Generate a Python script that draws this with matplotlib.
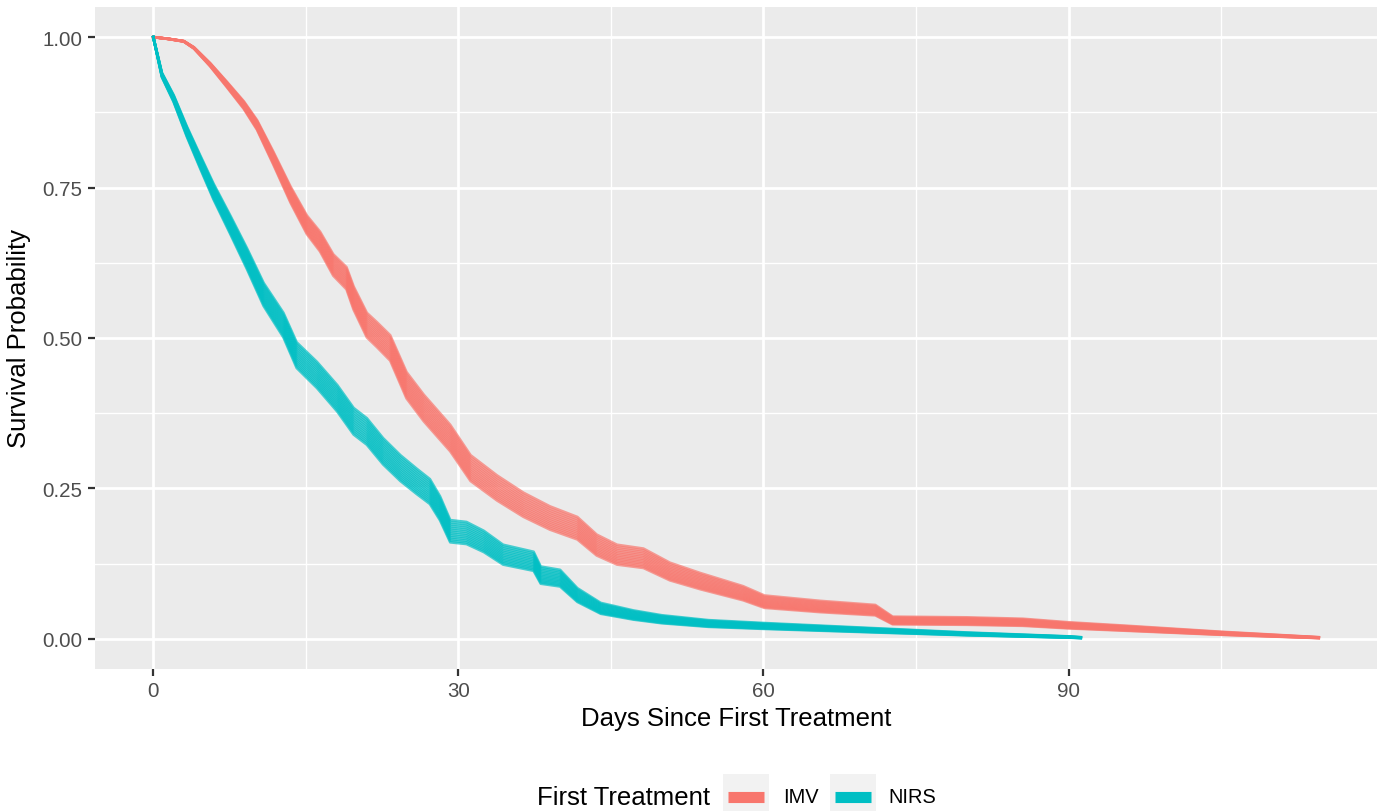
import numpy as np
import matplotlib
matplotlib.use('Agg')
import matplotlib.pyplot as plt
from matplotlib.patches import Rectangle
from matplotlib.lines import Line2D


# Kaplan-Meier curves (days, survival probability)
IMV_DAYS = [0, 1.5, 3.0, 4.0, 5.6, 7.25, 8.9, 10.2, 11.8, 13.5, 15.1, 16.4,
            17.7, 19.0, 19.7, 21.0, 22.0, 23.3, 24.9, 26.6, 29.2, 31.2, 33.8,
            36.4, 39.0, 41.7, 43.6, 45.6, 48.2, 50.8, 53.8, 58.0, 60.1, 65.6,
            71.0, 72.7, 80.0, 85.5, 90.0, 95.9, 105.0, 114.6]
IMV_SURV = [1.000, 0.997, 0.993, 0.982, 0.954, 0.921, 0.887, 0.854, 0.799,
            0.738, 0.688, 0.660, 0.621, 0.599, 0.566, 0.521, 0.505, 0.483,
            0.421, 0.383, 0.333, 0.283, 0.250, 0.222, 0.200, 0.183, 0.155,
            0.139, 0.133, 0.111, 0.095, 0.075, 0.061, 0.053, 0.047, 0.030,
            0.029, 0.027, 0.022, 0.017, 0.009, 0.002]

NIRS_DAYS = [0, 0.85, 2.0, 3.3, 4.6, 5.93, 7.57, 9.2, 10.85, 12.8, 14.1, 16.1,
             18.1, 19.7, 21.0, 22.6, 24.3, 25.9, 27.2, 28.2, 29.2, 30.8, 32.5,
             34.4, 37.4, 38.1, 40.0, 41.7, 44.0, 47.2, 50.0, 54.6, 60.0, 72.2,
             80.0, 90.0, 91.2]
NIRS_SURV = [1.000, 0.937, 0.898, 0.843, 0.793, 0.743, 0.688, 0.632, 0.572,
             0.521, 0.471, 0.438, 0.399, 0.361, 0.344, 0.311, 0.283, 0.261,
             0.244, 0.216, 0.178, 0.175, 0.161, 0.139, 0.128, 0.105, 0.100,
             0.072, 0.050, 0.039, 0.032, 0.025, 0.021, 0.013, 0.008, 0.003,
             0.002]

# spread between the imputed datasets (one curve per exponent)
IMPUTATION_EXPONENTS = [0.94, 0.95, 0.96, 0.97, 0.98, 0.99, 1.0,
                        1.01, 1.02, 1.03, 1.04, 1.05, 1.06]

GROUPS = ['IMV', 'NIRS']
COLORS = {'IMV': '#F8766D', 'NIRS': '#00BFC4'}

X_TICKS = [0, 30, 60, 90]
Y_TICKS = [0.0, 0.25, 0.5, 0.75, 1.0]
Y_TICK_LABELS = ['0.00', '0.25', '0.50', '0.75', '1.00']

W, H = 1377, 812

plt.rcParams['font.family'] = ['Liberation Sans', 'DejaVu Sans']

fig = plt.figure(figsize=(W / 100, H / 100), dpi=100)
ax = fig.add_axes([95 / W, 142 / H, 1282 / W, 662 / H])
ax.set_facecolor('#EBEBEB')
for spine in ax.spines.values():
  spine.set_visible(False)

ax.set_xlim(-5.73, 120.33)
ax.set_ylim(-0.05, 1.05)
ax.set_xticks(X_TICKS)
ax.set_xticks([15, 45, 75, 105], minor=True)
ax.set_yticks(Y_TICKS)
ax.set_yticklabels(Y_TICK_LABELS)
ax.set_yticks([0.125, 0.375, 0.625, 0.875], minor=True)
ax.grid(True, which='major', color='white', linewidth=2.0)
ax.grid(True, which='minor', color='white', linewidth=1.0)
ax.set_axisbelow(True)
ax.tick_params(which='major', length=5, width=1.6, color='#333333',
               labelcolor='#4D4D4D', labelsize=14.8, pad=4)
ax.tick_params(which='minor', length=0)

curves = {
  'IMV': (np.array(IMV_DAYS), np.array(IMV_SURV)),
  'NIRS': (np.array(NIRS_DAYS), np.array(NIRS_SURV)),
}
for group in GROUPS:
  days, surv = curves[group]
  for k in IMPUTATION_EXPONENTS:
    ax.plot(days, surv ** k, color=COLORS[group], linewidth=1.9, alpha=0.7,
            solid_joinstyle='round')

ax.set_xlabel('Days Since First Treatment', fontsize=18.5, labelpad=4)
ax.set_ylabel('Survival Probability', fontsize=18.5, labelpad=8)

# legend along the bottom, ggplot style
fig.text(537 / W, 1 - 798 / H, 'First Treatment', fontsize=18.5,
         ha='left', va='center')
key_x = {'IMV': 723, 'NIRS': 830}
label_x = {'IMV': 783, 'NIRS': 888}
for group in GROUPS:
  x0 = key_x[group]
  fig.add_artist(Rectangle((x0 / W, -0.02), 46 / W, 1 - 775 / H + 0.02,
                           transform=fig.transFigure, facecolor='#F2F2F2',
                           edgecolor='none'))
  fig.add_artist(Line2D([(x0 + 5) / W, (x0 + 41) / W],
                        [1 - 797.5 / H, 1 - 797.5 / H],
                        transform=fig.transFigure, color=COLORS[group],
                        linewidth=8, solid_capstyle='butt'))
  fig.text(label_x[group] / W, 1 - 798 / H, group, fontsize=14.4,
           ha='left', va='center')

fig.savefig('out.png', dpi=100)
